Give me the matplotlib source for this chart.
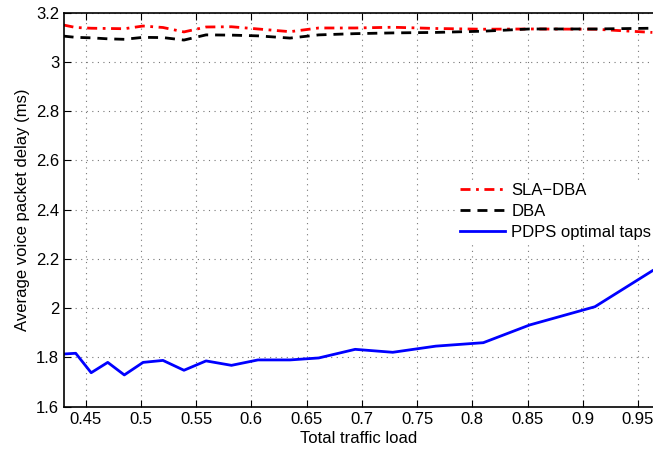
import matplotlib
matplotlib.use("Agg")
import matplotlib.pyplot as plt
import numpy as np

plt.rcParams['font.family'] = ['Liberation Sans', 'DejaVu Sans']

# traffic load (x) shared by all three curves
load = [0.430, 0.441, 0.455, 0.470, 0.485, 0.502, 0.520, 0.539, 0.559, 0.582,
        0.606, 0.635, 0.661, 0.694, 0.728, 0.767, 0.810, 0.852, 0.911, 0.963]

sla_dba = [3.150, 3.140, 3.137, 3.136, 3.135, 3.146, 3.140, 3.122, 3.142, 3.143,
           3.134, 3.123, 3.138, 3.138, 3.141, 3.136, 3.133, 3.134, 3.133, 3.120]

dba = [3.105, 3.100, 3.098, 3.094, 3.092, 3.100, 3.099, 3.089, 3.110, 3.109,
       3.106, 3.097, 3.110, 3.115, 3.118, 3.120, 3.125, 3.134, 3.134, 3.137]

pdps = [1.814, 1.817, 1.738, 1.780, 1.729, 1.780, 1.788, 1.748, 1.786, 1.768,
        1.790, 1.790, 1.798, 1.833, 1.821, 1.846, 1.860, 1.932, 2.006, 2.152]

xticks = [0.45, 0.5, 0.55, 0.6, 0.65, 0.7, 0.75, 0.8, 0.85, 0.9, 0.95]
yticks = [1.6, 1.8, 2.0, 2.2, 2.4, 2.6, 2.8, 3.0, 3.2]

fs = 12

fig = plt.figure(figsize=(6.53, 4.51), dpi=100)
ax = fig.add_axes([0.098, 0.0982, 0.902, 0.8736])

ax.plot(load, sla_dba, color='red', lw=2, ls=(0, (3.6, 2.0, 1.0, 2.0)), label='SLA\u2212DBA')
ax.plot(load, dba, color='black', lw=2, ls=(0, (3.6, 2.5)), label='DBA')
ax.plot(load, pdps, color='blue', lw=2, ls='-', label='PDPS optimal taps')

ax.set_xlim(0.4304, 0.9636)
ax.set_ylim(1.6, 3.2)
ax.set_xticks(xticks)
ax.set_xticklabels([('%g' % v) for v in xticks])
ax.set_yticks(yticks)
ax.set_yticklabels([('%g' % v) for v in yticks])

ax.grid(True, ls=(0, (1, 4)), color='#777777', lw=0.8)
ax.tick_params(direction='in', top=True, right=False, labelsize=fs, length=5, width=0.8)
for s in ['left', 'bottom', 'top']:
    ax.spines[s].set_linewidth(1.2)
ax.spines['right'].set_visible(False)

ax.set_xlabel('Total traffic load', fontsize=fs, labelpad=3)
ax.set_ylabel('Average voice packet delay (ms)', fontsize=fs, labelpad=4)

leg = ax.legend(loc='upper left', bbox_to_anchor=(0.652, 0.597), fontsize=fs,
                frameon=True, fancybox=False, edgecolor='none', facecolor='white',
                framealpha=1, handlelength=2.7, handletextpad=0.4,
                labelspacing=0.35, borderpad=0.2)

fig.savefig('out.png', dpi=100)
